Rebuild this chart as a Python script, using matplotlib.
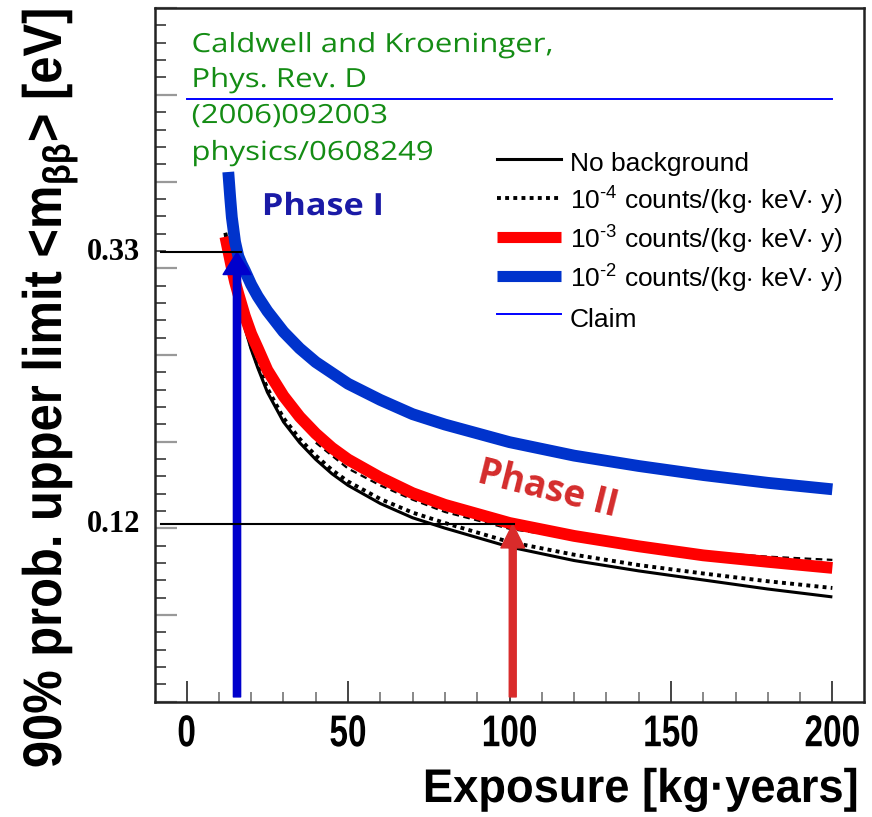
import numpy as np
import matplotlib
matplotlib.use("Agg")
import matplotlib.pyplot as plt
from matplotlib import patheffects
from matplotlib.transforms import Affine2D
from matplotlib.lines import Line2D
from matplotlib.ticker import FixedLocator, MultipleLocator

# ---------------- data ----------------
exposure = [12, 13, 14, 15, 16, 18, 20, 22, 25, 30, 35, 40, 45, 50, 60, 70, 80, 100, 120, 140,
            160, 180, 200]
no_bkg   = [0.345, 0.330, 0.315, 0.303, 0.293, 0.272, 0.255, 0.241, 0.222, 0.199, 0.183, 0.170,
            0.159, 0.150, 0.136, 0.125, 0.117, 0.1025, 0.092, 0.084, 0.077, 0.070, 0.0639]
bkg_1e4  = [0.345, 0.330, 0.316, 0.305, 0.294, 0.274, 0.257, 0.243, 0.225, 0.202, 0.186, 0.173,
            0.162, 0.153, 0.1395, 0.129, 0.121, 0.1063, 0.0965, 0.0885, 0.082, 0.076, 0.0708]
bkg_1e3  = [0.342, 0.330, 0.318, 0.307, 0.298, 0.281, 0.267, 0.256, 0.239, 0.219, 0.203, 0.190,
            0.179, 0.170, 0.156, 0.144, 0.135, 0.121, 0.111, 0.103, 0.096, 0.091, 0.0863]
exposure_orig = [40, 50, 60, 70, 80, 100, 120, 140, 160, 180, 200]
bkg_1e3_orig = [0.183, 0.163, 0.150, 0.139, 0.1295, 0.1165, 0.109, 0.103, 0.0985, 0.095, 0.0925]
exposure_blue = [12.9, 13.5, 14, 15, 16, 17, 18, 20, 22, 25, 30, 35, 40, 50, 60, 70, 80, 100, 120,
                 140, 160, 180, 200]
bkg_1e2  = [0.392, 0.372, 0.357, 0.338, 0.327, 0.321, 0.316, 0.305, 0.296, 0.2846, 0.2686,
            0.2558, 0.2452, 0.2285, 0.216, 0.205, 0.197, 0.1834, 0.173, 0.165, 0.158, 0.152, 0.147]
claim_x = [0, 200]
claim_value = 0.448

phase1_exposure, phase1_limit = 15.6, 0.33
phase2_exposure, phase2_limit = 101.0, 0.12

legend_labels = ["No background",
                 "10$^{\\mathregular{\u20104}}$ counts/(kg$\\cdot$ keV$\\cdot$ y)",
                 "10$^{\\mathregular{\u20103}}$ counts/(kg$\\cdot$ keV$\\cdot$ y)",
                 "10$^{\\mathregular{\u20102}}$ counts/(kg$\\cdot$ keV$\\cdot$ y)",
                 "Claim"]
xtick_values = [0, 50, 100, 150, 200]
ref_lines = ["Caldwell and Kroeninger,", "Phys. Rev. D", "(2006)092003", "physics/0608249"]


class Squeeze(patheffects.AbstractPathEffect):
    """Scale rendered text about its own left edge or centre (display coordinates)."""
    def __init__(self, sx=1.0, sy=1.0, anchor="center"):
        super().__init__()
        self.sx, self.sy, self.anchor = sx, sy, anchor

    def draw_path(self, renderer, gc, tpath, affine, rgbFace=None):
        bb = tpath.get_extents(affine)
        cx = bb.x0 if self.anchor == "left" else (bb.x0 + bb.x1) / 2
        cy = (bb.y0 + bb.y1) / 2
        t = affine + Affine2D().translate(-cx, -cy).scale(self.sx, self.sy).translate(cx, cy)
        renderer.draw_path(gc, tpath, t, rgbFace)


plt.rcParams["font.family"] = ["Liberation Sans", "DejaVu Sans"]
plt.rcParams["mathtext.fontset"] = "custom"
plt.rcParams["mathtext.rm"] = "Liberation Sans"
plt.rcParams["mathtext.it"] = "Liberation Sans:italic"
plt.rcParams["mathtext.bf"] = "Liberation Sans:bold"

W, H = 872, 817
fig = plt.figure(figsize=(W / 100, H / 100), dpi=100)
ax = fig.add_axes([155 / W, 1 - 701.7 / H, (864 - 155) / W, (701.7 - 7.5) / H])

ymin, ymax = -0.0170, 0.519
ax.set_xlim(-9.8, 209.8)
ax.set_ylim(ymin, ymax)

# curves
ax.plot(exposure, no_bkg, color="black", lw=2.2, zorder=2, solid_capstyle="butt")
ax.plot(exposure, bkg_1e4, color="black", lw=2.8, ls=(0, (1, 1.1)), dash_capstyle="butt", zorder=2.1)
ax.plot(exposure_orig, bkg_1e3_orig, color="black", lw=1.6, ls=(0, (3, 2)), zorder=2.2)
ax.plot(exposure, bkg_1e3, color="#ff0000", lw=8.5, zorder=3, solid_capstyle="butt")
ax.plot(exposure_blue, bkg_1e2, color="#0033cc", lw=8.5, zorder=3.1, solid_capstyle="butt")
ax.plot(claim_x, [claim_value, claim_value], color="#0000ff", lw=1.4, zorder=3.2)

# arrows
ybot = ymin + 0.0037
ax.annotate("", xy=(phase1_exposure, phase1_limit), xytext=(phase1_exposure, ybot),
            arrowprops=dict(arrowstyle="simple,head_length=0.8,head_width=1.0,tail_width=0.26",
                            color="#0000cc", shrinkA=0, shrinkB=0, mutation_scale=20), zorder=4)
ax.annotate("", xy=(phase2_exposure, phase2_limit), xytext=(phase2_exposure, ybot),
            arrowprops=dict(arrowstyle="simple,head_length=0.85,head_width=0.85,tail_width=0.25",
                            color="#d92b2b", shrinkA=0, shrinkB=0, mutation_scale=20), zorder=4)

# horizontal reference lines
ax.plot([-8.0, 16.8], [phase1_limit, phase1_limit], color="black", lw=1.5, zorder=5)
ax.plot([-8.0, 101.5], [phase2_limit, phase2_limit], color="black", lw=1.5, zorder=5)
for val, lab in [(phase1_limit, "0.33"), (phase2_limit, "0.12")]:
    ax.text(-14.5, val, lab, ha="right", va="center", fontsize=22, fontweight="bold",
            family=["Liberation Serif"], clip_on=False, zorder=6)

# texts
green = "#148c14"
for yv, s in zip([0.4846, 0.4576, 0.4298, 0.4013], ref_lines):
    ax.text(1.6, yv, s, color=green, fontsize=19, family=["Open Sans", "DejaVu Sans"],
            ha="left", va="baseline", zorder=6, path_effects=[Squeeze(1.18, 1.0, "left")])
ax.text(23.4, 0.3588, "Phase I", color="#1a1aa6", fontsize=22, fontweight="bold",
        family=["Open Sans", "DejaVu Sans"], ha="left", va="baseline", zorder=6,
        path_effects=[Squeeze(1.12, 1.0, "left")])
ax.text(112, 0.1465, "Phase II", color="#d42c2c", fontsize=26.5, fontweight="bold",
        family=["Open Sans", "DejaVu Sans"], ha="center", va="center", rotation=-14,
        rotation_mode="anchor", zorder=6)

# legend
handles = [Line2D([], [], color="black", lw=2.2),
           Line2D([], [], color="black", lw=2.8, ls=(0, (1, 1.1)), dash_capstyle="butt"),
           Line2D([], [], color="#ff0000", lw=8.0, solid_capstyle="butt"),
           Line2D([], [], color="#0033cc", lw=8.0, solid_capstyle="butt"),
           Line2D([], [], color="#0000ff", lw=1.4)]
leg = ax.legend(handles, legend_labels, loc="upper left", bbox_to_anchor=(497 / W, 1 - 147 / H),
                bbox_transform=fig.transFigure, frameon=False, fontsize=19, handlelength=2.42,
                handleheight=1.44, handletextpad=0.34, labelspacing=0.26, borderpad=0,
                borderaxespad=0)

# ticks
ax.set_xticks(xtick_values)
ax.xaxis.set_minor_locator(MultipleLocator(10))
ystep = 86.7 / 1295.2
ax.yaxis.set_major_locator(FixedLocator(np.arange(ymin, ymax, ystep)))
ax.yaxis.set_minor_locator(FixedLocator(np.arange(ymin, ymax, ystep / 5)))
ax.tick_params(axis="x", which="major", direction="in", length=15, width=1.4, color="#444444",
               pad=9, labelsize=32)
ax.tick_params(axis="x", which="minor", direction="in", length=7, width=1.4, color="#888888")
ax.tick_params(axis="y", which="major", direction="in", length=16, width=1.6, color="#999999",
               labelleft=False)
ax.tick_params(axis="y", which="minor", direction="in", length=8, width=1.4, color="#555555")
for lab in ax.get_xticklabels():
    lab.set_fontweight("bold")
    lab.set_path_effects([Squeeze(0.75, 1.0)])

for sp in ax.spines.values():
    sp.set_linewidth(1.8)
    sp.set_color("#222222")

# axis titles
fig.text(641 / W, 1 - 802 / H, "Exposure [kg·years]", ha="center", va="baseline",
         fontsize=34, fontweight="bold", path_effects=[Squeeze(0.96, 1.0)])
fig.text(50 / W, 1 - 388 / H, "90% prob. upper limit <m$_{\\mathregular{\\beta\\beta}}$> [eV]",
         ha="center", va="center", rotation=90, fontsize=34, fontweight="bold",
         path_effects=[Squeeze(1.15, 1.035)])

fig.savefig("out.png", dpi=100)
